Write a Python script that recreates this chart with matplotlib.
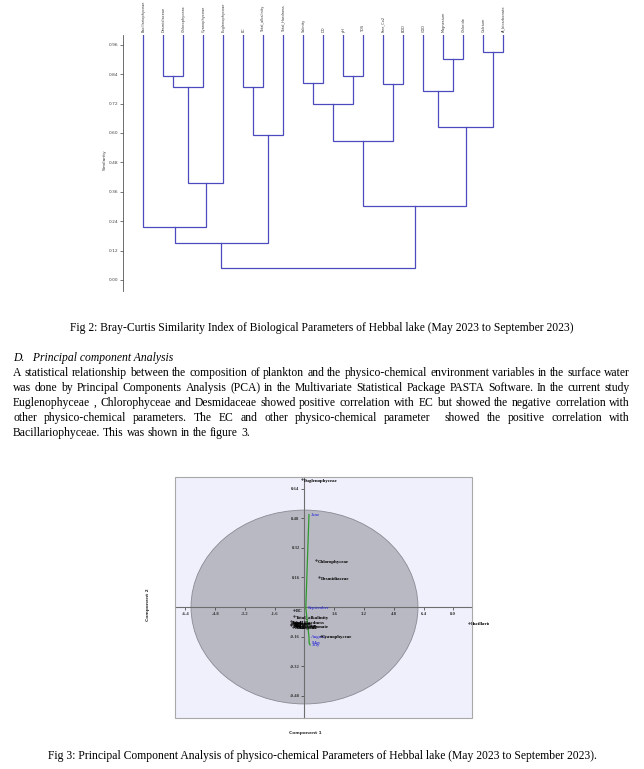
import numpy as np
import matplotlib
matplotlib.use('Agg')
import matplotlib.pyplot as plt
from matplotlib.patches import Ellipse, Rectangle
from matplotlib.transforms import Bbox, TransformedBbox

W, H = 644, 769
SERIF = 'Liberation Serif'
BODY = 8.35  # tamaño del texto del documento

# ---------- datos: dendrograma (Bray-Curtis) ----------
leaves = ['Bacillariophyceae', 'Desmidiaceae', 'Chlorophyceae', 'Cyanophyceae',
          'Euglenophyceae', 'EC', 'Total_alkalinity', 'Total_Hardness', 'Salinity',
          'DO', 'pH', 'TDS', 'Free_Co2', 'BOD', 'COD', 'Magnesium', 'Chloride',
          'Calcium', 'Al_bicarbonate']
# (grupo a, grupo b, similitud) ; 'mN' = union numero N
merges = [
    ('Desmidiaceae', 'Chlorophyceae', 0.834),   # m0
    ('m0', 'Cyanophyceae', 0.786),              # m1
    ('m1', 'Euglenophyceae', 0.396),            # m2
    ('Bacillariophyceae', 'm2', 0.218),         # m3
    ('EC', 'Total_alkalinity', 0.789),          # m4
    ('m4', 'Total_Hardness', 0.592),            # m5
    ('m3', 'm5', 0.150),                        # m6
    ('Salinity', 'DO', 0.805),                  # m7
    ('pH', 'TDS', 0.834),                       # m8
    ('m7', 'm8', 0.718),                        # m9
    ('Free_Co2', 'BOD', 0.799),                 # m10
    ('m9', 'm10', 0.569),                       # m11
    ('Magnesium', 'Chloride', 0.902),           # m12
    ('COD', 'm12', 0.771),                      # m13
    ('Calcium', 'Al_bicarbonate', 0.929),       # m14
    ('m13', 'm14', 0.626),                      # m15
    ('m11', 'm15', 0.301),                      # m16
    ('m6', 'm16', 0.050),                       # m17
]
dendro_ticks = [0.00, 0.12, 0.24, 0.36, 0.48, 0.60, 0.72, 0.84, 0.96]

# ---------- datos: PCA ----------
var_names = ['Euglenophyceae', 'Chlorophyceae', 'Desmidiaceae', 'Cyanophyceae',
             'Bacillariophyceae', 'EC', 'Total_alkalinity', 'Total_Hardness',
             'Salinity', 'DO', 'pH', 'TDS', 'Free_Co2', 'BOD', 'COD', 'Magnesium',
             'Chloride', 'Calcium', 'Al_bicarbonate']
var_x = [-0.13, 0.62, 0.80, 0.87, 8.84, -0.56, -0.56, -0.74, -0.66, -0.58, -0.48,
         -0.70, -0.44, -0.62, -0.52, -0.72, -0.40, -0.60, -0.50]
var_y = [0.692, 0.254, 0.160, -0.155, -0.085, -0.015, -0.050, -0.075, -0.085,
         -0.092, -0.080, -0.098, -0.102, -0.108, -0.088, -0.094, -0.104, -0.082,
         -0.097]
months = ['June', 'September', 'August', 'May', 'July']
month_x = [0.24, 0.07, 0.24, 0.25, 0.30]
month_y = [0.500, -0.005, -0.160, -0.195, -0.205]
pca_xticks = [-6.4, -4.8, -3.2, -1.6, 1.6, 3.2, 4.8, 6.4, 8.0]
pca_yticks = [-0.48, -0.32, -0.16, 0.16, 0.32, 0.48, 0.64]

# ---------- textos ----------
cap2 = 'Fig 2: Bray-Curtis Similarity Index of Biological Parameters of Hebbal lake (May 2023 to September 2023)'
heading = 'D.   Principal component Analysis'
para = ['A statistical relationship between the composition of plankton and the physico-chemical environment variables in the surface water',
        'was done by Principal Components Analysis (PCA) in the Multivariate Statistical Package PASTA Software. In the current study',
        'Euglenophyceae , Chlorophyceae and Desmidaceae showed positive correlation with EC but showed the negative correlation with',
        'other physico-chemical parameters. The EC and other physico-chemical parameter  showed the positive correlation with',
        'Bacillariophyceae. This was shown in the figure 3.']
cap3 = 'Fig 3: Principal Component Analysis of physico-chemical Parameters of Hebbal lake (May 2023 to September 2023).'


def box(l, t, r, b):
    return [l / W, 1 - b / H, (r - l) / W, (b - t) / H]


fig = plt.figure(figsize=(W / 100, H / 100), dpi=100)
fig.patch.set_facecolor('white')

# ================= dendrograma =================
ax1 = fig.add_axes(box(123, 35, 523, 291))
ax1.set_xlim(-1.015, 18.985)
ax1.set_ylim(-0.045, 1.0)
blue = '#4b4bbd'
pos = {name: i for i, name in enumerate(leaves)}
hgt = {name: 1.0 for name in leaves}
for k, (a, b, s) in enumerate(merges):
    xa, xb = pos[a], pos[b]
    ax1.plot([xa, xa, xb, xb], [hgt[a], s, s, hgt[b]], color=blue, lw=0.9,
             solid_joinstyle='miter')
    pos['m%d' % k] = (xa + xb) / 2
    hgt['m%d' % k] = s
for name in leaves:
    ax1.text(pos[name], 1.012, name, rotation=90, ha='center', va='bottom',
             fontsize=2.55, family='DejaVu Sans', color='#333333', clip_on=False)
for sp in ['top', 'right', 'bottom']:
    ax1.spines[sp].set_visible(False)
ax1.spines['left'].set_color('#555555')
ax1.spines['left'].set_linewidth(0.6)
ax1.set_xticks([])
ax1.set_yticks(dendro_ticks)
ax1.set_yticklabels(['%.2f' % t for t in dendro_ticks])
ax1.tick_params(axis='y', labelsize=3.2, length=2, width=0.5, colors='#444444', pad=1)
fig.text(105 / W, 1 - 160 / H, 'Similarity', rotation=90, ha='center', va='center',
         fontsize=3.2, color='#333333')

# ================= textos =================
fig.text(322 / W, 1 - 328 / H, cap2, ha='center', va='center', fontsize=BODY, family=SERIF)
fig.text(13 / W, 1 - 358 / H, heading, ha='left', va='center', fontsize=BODY,
         family=SERIF, style='italic')

renderer = fig.canvas.get_renderer()
x_left, x_right = 13, 630
line_y = [373, 388, 403, 418, 433]
for i, (line, yy) in enumerate(zip(para, line_y)):
    words = line.split(' ')
    objs = [fig.text(0, 1 - yy / H, w, ha='left', va='center', fontsize=BODY, family=SERIF)
            for w in words]
    widths = [o.get_window_extent(renderer).width if w else 0 for o, w in zip(objs, words)]
    if i < len(para) - 1:
        gap = (x_right - x_left - sum(widths)) / (len(words) - 1)
    else:
        gap = BODY * 0.25 * 100 / 72
    x = x_left
    for o, w in zip(objs, widths):
        o.set_x(x / W)
        x += w + gap

fig.text(322 / W, 1 - 756 / H, cap3, ha='center', va='center', fontsize=BODY, family=SERIF)

# ================= PCA =================
ax2 = fig.add_axes(box(175, 477, 472, 718))
ax2.set_xlim(-6.962, 9.005)
ax2.set_ylim(-0.600, 0.703)
ax2.set_facecolor('#f0f0fc')
ell = Ellipse((0, 0), width=2 * 6.1, height=2 * 0.524, facecolor='#b9b9c3',
              edgecolor='#8a8a94', lw=0.6, zorder=1)
ax2.add_patch(ell)
for sp in ['top', 'right']:
    ax2.spines[sp].set_visible(False)
ax2.spines['left'].set_position(('data', 0))
ax2.spines['bottom'].set_position(('data', 0))
for sp in ['left', 'bottom']:
    ax2.spines[sp].set_color('#6e6e6e')
    ax2.spines[sp].set_linewidth(0.8)
    ax2.spines[sp].set_zorder(2)
ax2.add_patch(Rectangle((0, 0), 1, 1, transform=ax2.transAxes, fill=False,
                        edgecolor='#a8a8a8', lw=0.8, zorder=5, clip_on=False))
ax2.set_xticks(pca_xticks)
ax2.set_xticklabels(['%.1f' % t for t in pca_xticks])
ax2.set_yticks(pca_yticks)
ax2.set_yticklabels(['%.2f' % t for t in pca_yticks])
ax2.tick_params(labelsize=3.4, length=2, width=0.5, colors='#333333', pad=1.5,
                direction='out')
for lab in ax2.get_xticklabels() + ax2.get_yticklabels():
    lab.set_family(SERIF)
    lab.set_fontweight('bold')

ax2.plot(month_x, month_y, color='#2e9a2e', lw=0.9, zorder=3)
for name, x, y in zip(months, month_x, month_y):
    ax2.text(x + 0.12, y, name, fontsize=3.6, family=SERIF, color='#2020dd',
             ha='left', va='center', zorder=4)

clip = TransformedBbox(Bbox([[0, 0], [489 / W, 1]]), fig.transFigure)
ax2.plot(var_x, var_y, ls='none', marker='.', ms=0.8, color='black', zorder=4)
for name, x, y in zip(var_names, var_x, var_y):
    t = ax2.text(x + 0.08, y - 0.008, name, fontsize=3.5, family=SERIF, color='black',
                 ha='left', va='center', zorder=4, fontweight='bold')
    t.set_clip_on(True)
    t.set_clip_box(clip)

fig.text(305 / W, 1 - 733 / H, 'Component 1', ha='center', va='center', fontsize=3.2,
         fontweight='bold', color='#333333')
fig.text(148 / W, 1 - 605 / H, 'Component 2', rotation=90, ha='center', va='center',
         fontsize=3.2, fontweight='bold', color='#333333')

fig.savefig('out.png', dpi=100)
